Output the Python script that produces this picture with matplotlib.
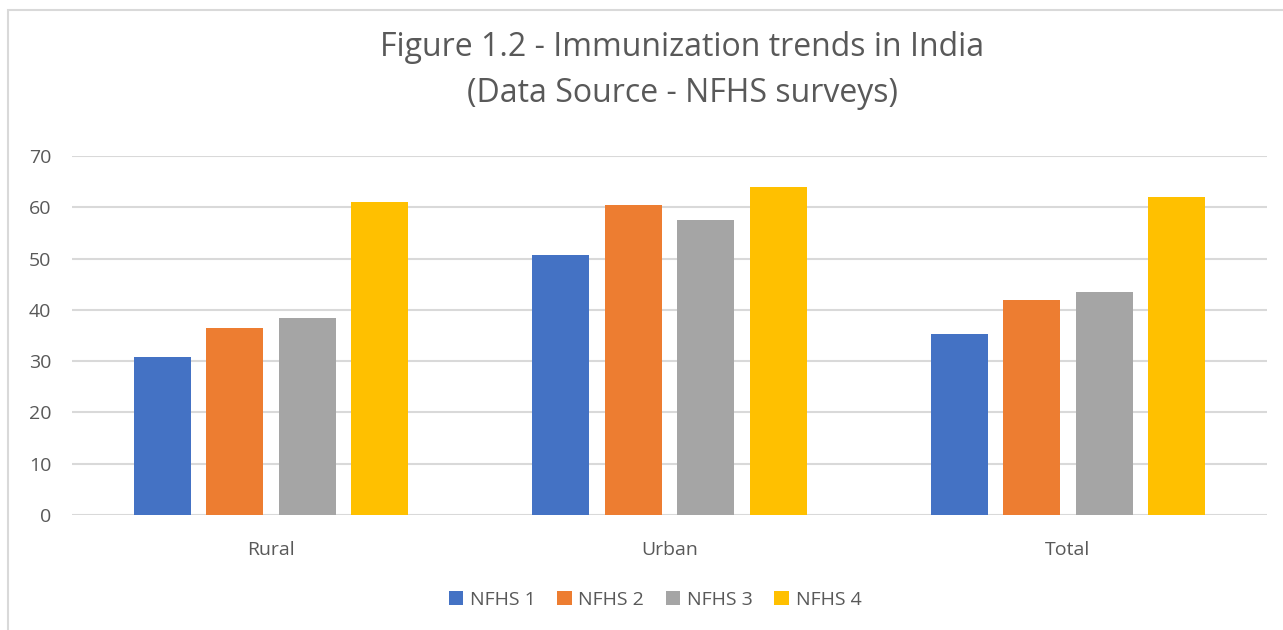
import matplotlib
matplotlib.use("Agg")
import matplotlib.pyplot as plt
from matplotlib.patches import Rectangle
import numpy as np

categories = ["Rural", "Urban", "Total"]
series_names = ["NFHS 1", "NFHS 2", "NFHS 3", "NFHS 4"]
nfhs1 = [30.9, 50.7, 35.3]
nfhs2 = [36.5, 60.5, 42.0]
nfhs3 = [38.5, 57.5, 43.5]
nfhs4 = [61.0, 64.0, 62.0]
yticks = [0, 10, 20, 30, 40, 50, 60, 70]
colors = ["#4472C4", "#ED7D31", "#A5A5A5", "#FFC000"]

plt.rcParams['font.family'] = ['Open Sans', 'DejaVu Sans']

fig = plt.figure(figsize=(12.83, 6.3), dpi=100)
fig.patch.set_facecolor("white")
fig.add_artist(Rectangle((8/1283, -0.05), 1.2, 1 - 10/630 + 0.05, transform=fig.transFigure,
                         fill=False, edgecolor="#D9D9D9", linewidth=1.5))

ax = fig.add_axes([72/1283, 1 - 515/630, (1267 - 72)/1283, (515 - 156)/630])
x = np.arange(len(categories))
width = 0.143
step = 0.182
offsets = [-1.5 * step, -0.5 * step, 0.5 * step, 1.5 * step]
for vals, name, c, off in zip([nfhs1, nfhs2, nfhs3, nfhs4], series_names, colors, offsets):
    ax.bar(x + off, vals, width, color=c, label=name, zorder=3)

ax.set_xlim(-0.5, 2.5)
ax.set_ylim(0, 70)
ax.set_yticks(yticks)
ax.set_xticks(x)
ax.set_xticklabels(categories)
ax.yaxis.grid(True, color="#D9D9D9", linewidth=1.5, zorder=0)
ax.set_axisbelow(True)
for s in ax.spines.values():
    s.set_visible(False)
ax.tick_params(axis="both", length=0, colors="#595959", labelsize=14)
ax.tick_params(axis="y", pad=15)
ax.tick_params(axis="x", pad=19)

fig.text(0.532, 1 - 48/630, "Figure 1.2 - Immunization trends in India", ha="center", va="center",
         fontsize=23, color="#595959")
fig.text(0.532, 1 - 94/630, "(Data Source - NFHS surveys)", ha="center", va="center",
         fontsize=23, color="#595959")

fig.legend(loc="center", bbox_to_anchor=(655/1283, 1 - 600/630), ncol=4, frameon=False,
           fontsize=14, labelcolor="#595959", handlelength=0.75, handleheight=0.75,
           handletextpad=0.35, columnspacing=1.1)

fig.savefig("out.png", dpi=100, facecolor="white")
